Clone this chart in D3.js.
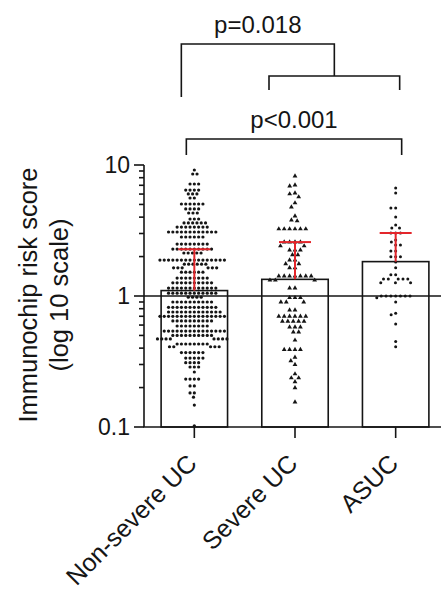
<!DOCTYPE html>
<html>
<head>
<meta charset="utf-8">
<script src="https://cdn.jsdelivr.net/npm/d3@7"></script>
<style>
  html, body { margin: 0; padding: 0; background: #fff; }
  svg { display: block; font-family: "Liberation Sans", Arial, Helvetica, sans-serif; }
</style>
</head>
<body>
<svg id="chart" width="441" height="594"></svg>
<script>
// ---------- data ----------
const categories = ["Non-severe UC", "Severe UC", "ASUC"];
const barMeans   = [1.10, 1.34, 1.83];   // geometric mean (bar height)
const errUpper   = [2.27, 2.58, 3.03];   // upper error bar
const yTicks     = [0.1, 1, 10];
const yTickLabels = ["0.1", "1", "10"];
const refLine    = 1;
const pLabels    = ["p=0.018", "p<0.001"];

const nonSevere = [
  9.16,
  8.54, 8.54,
  7.16, 7.16, 7.16,
  6.44, 6.44, 6.44, 6.44,
  6.01, 6.01, 6.01,
  5.60, 5.60,
  5.04, 5.04, 5.04, 5.04, 5.04, 5.04,
  4.62, 4.62, 4.62, 4.62,
  4.30, 4.30, 4.30,
  3.87, 3.87, 3.87,
  3.61, 3.61, 3.61, 3.61, 3.61, 3.61,
  3.36, 3.36, 3.36, 3.36, 3.36, 3.36, 3.36, 3.36,
  3.08, 3.08, 3.08, 3.08, 3.08, 3.08, 3.08, 3.08, 3.08, 3.08, 3.08, 3.08,
  2.82, 2.82, 2.82, 2.82, 2.82, 2.82,
  2.49, 2.49, 2.49, 2.49, 2.49, 2.49, 2.49, 2.49,
  2.28, 2.28, 2.28, 2.28, 2.28, 2.28, 2.28, 2.28, 2.28, 2.28,
  2.13, 2.13, 2.13, 2.13, 2.13,
  1.88, 1.88, 1.88, 1.88, 1.88, 1.88, 1.88, 1.88, 1.88, 1.88, 1.88, 1.88, 1.88, 1.88, 1.88, 1.88,
  1.75, 1.75, 1.75, 1.75, 1.75, 1.75,
  1.64, 1.64, 1.64, 1.64, 1.64, 1.64,
  1.52, 1.52, 1.52, 1.52, 1.52, 1.52,
  1.37, 1.37, 1.37, 1.37, 1.37, 1.37, 1.37, 1.37,
  1.26, 1.26, 1.26, 1.26, 1.26, 1.26, 1.26, 1.26, 1.26, 1.26,
  1.15, 1.15, 1.15, 1.15, 1.15, 1.15, 1.15, 1.15, 1.15, 1.15, 1.15, 1.15,
  1.05, 1.05, 1.05, 1.05, 1.05, 1.05, 1.05, 1.05, 1.05, 1.05, 1.05, 1.05,
  0.98, 0.98, 0.98, 0.98,
  0.90, 0.90, 0.90, 0.90, 0.90, 0.90, 0.90, 0.90, 0.90, 0.90,
  0.82, 0.82, 0.82, 0.82, 0.82, 0.82, 0.82, 0.82, 0.82, 0.82, 0.82, 0.82,
  0.755, 0.755, 0.755, 0.755, 0.755, 0.755, 0.755, 0.755, 0.755, 0.755, 0.755, 0.755, 0.755,
  0.70, 0.70, 0.70, 0.70, 0.70, 0.70, 0.70, 0.70, 0.70, 0.70, 0.70, 0.70, 0.70, 0.70, 0.70, 0.70,
  0.645, 0.645, 0.645, 0.645, 0.645, 0.645, 0.645, 0.645, 0.645, 0.645,
  0.59, 0.59, 0.59, 0.59, 0.59, 0.59, 0.59, 0.59,
  0.54, 0.54, 0.54, 0.54, 0.54, 0.54, 0.54, 0.54, 0.54, 0.54, 0.54, 0.54, 0.54, 0.54, 0.54,
  0.50, 0.50, 0.50, 0.50, 0.50, 0.50, 0.50, 0.50, 0.50, 0.50,
  0.47, 0.47, 0.47, 0.47, 0.47, 0.47, 0.47, 0.47,
  0.43, 0.43, 0.43, 0.43, 0.43, 0.43, 0.43, 0.43,
  0.41, 0.41, 0.41, 0.41, 0.41,
  0.37, 0.37, 0.37, 0.37, 0.37, 0.37,
  0.336, 0.336, 0.336, 0.336, 0.336,
  0.31, 0.31, 0.31, 0.31,
  0.287, 0.287, 0.287,
  0.263,
  0.232, 0.232, 0.232, 0.232,
  0.206, 0.206,
  0.182, 0.182,
  0.169,
  0.147,
  0.102
];

const severe = [
  8.24, 7.03, 6.91, 6.11, 6.01, 5.70, 5.13, 4.78, 4.08, 3.80, 3.74,
  3.25, 3.25, 3.25, 3.25, 3.25, 3.25,
  2.58, 2.58, 2.58, 2.58,
  2.41, 2.41,
  2.24, 2.24, 2.24,
  2.06, 2.06,
  1.88, 1.88,
  1.76, 1.76,
  1.64, 1.64,
  1.42, 1.42, 1.42, 1.42, 1.42, 1.42, 1.42,
  1.32, 1.32, 1.32,
  1.15, 1.15,
  0.97, 0.97, 0.97,
  0.90, 0.90, 0.90,
  0.78, 0.78,
  0.70, 0.70, 0.70, 0.70, 0.70, 0.70,
  0.64, 0.64, 0.64, 0.64, 0.64,
  0.58, 0.58, 0.58,
  0.53, 0.53,
  0.46,
  0.39, 0.39, 0.39, 0.39,
  0.34, 0.32, 0.30, 0.254, 0.237, 0.237, 0.221, 0.199, 0.155
];

const asuc = [
  6.67, 6.11, 4.70, 4.70, 4.01, 3.48, 3.31, 3.31,
  3.03, 3.03, 3.03, 2.68, 2.58, 2.45, 2.45, 2.21, 2.21,
  1.99, 1.99, 1.99, 1.82, 1.64, 1.45, 1.45,
  1.35, 1.35, 1.35, 1.35, 1.35,
  1.26, 1.26, 1.26,
  1.00, 1.00, 1.00, 1.00, 1.00, 1.00, 1.00,
  0.97, 0.90, 0.74, 0.72, 0.61, 0.45, 0.41
];

const groups = [nonSevere, severe, asuc];

// ---------- layout ----------
const svg = d3.select("#chart");
const W = 441, H = 594;
const axisX = 144, yTop = 165, yBottom = 427;

const y = d3.scaleLog().domain([0.1, 10]).range([yBottom, yTop]);
const x = d3.scaleBand().domain(categories).range([axisX, 446])
  .paddingInner(0.34).paddingOuter(0.17);

const ink = "#151515";
const red = "#e3262b";

// bars
svg.append("g").selectAll("rect").data(categories).join("rect")
  .attr("x", d => x(d))
  .attr("y", (d, i) => y(barMeans[i]))
  .attr("width", x.bandwidth())
  .attr("height", (d, i) => yBottom - y(barMeans[i]))
  .attr("fill", "none")
  .attr("stroke", ink)
  .attr("stroke-width", 1.6);

// reference line at 1
svg.append("line")
  .attr("x1", axisX).attr("x2", W)
  .attr("y1", y(refLine)).attr("y2", y(refLine))
  .attr("stroke", ink).attr("stroke-width", 1.6);

// swarm layout
function swarm(values, cx, d) {
  const pts = values.map(v => ({ v, y: y(v) })).sort((a, b) => a.y - b.y);
  const placed = [];
  for (const p of pts) {
    const iv = [];
    for (const q of placed) {
      const dy = Math.abs(q.y - p.y);
      if (dy < d) {
        const w = Math.sqrt(d * d - dy * dy);
        iv.push([q.dx - w, q.dx + w]);
      }
    }
    const cands = [0];
    iv.forEach(i => { cands.push(i[0], i[1]); });
    cands.sort((a, b) => Math.abs(a) - Math.abs(b) || a - b);
    let chosen = 0;
    for (const c of cands) {
      if (!iv.some(i => c > i[0] + 1e-6 && c < i[1] - 1e-6)) { chosen = c; break; }
    }
    p.dx = chosen;
    placed.push(p);
  }
  return pts.map(p => ({ v: p.v, x: cx + p.dx, y: p.y }));
}

const spacing = [4.3, 5.4, 4.8];
const pointsG = svg.append("g");
groups.forEach((vals, gi) => {
  const cx = x(categories[gi]) + x.bandwidth() / 2;
  const pts = swarm(vals, cx, spacing[gi]);
  if (gi === 1) {
    pointsG.append("g").selectAll("path").data(pts).join("path")
      .attr("d", d3.symbol().type(d3.symbolTriangle).size(10))
      .attr("transform", d => `translate(${d.x},${d.y})`)
      .attr("fill", ink);
  } else {
    pointsG.append("g").selectAll("circle").data(pts).join("circle")
      .attr("cx", d => d.x).attr("cy", d => d.y)
      .attr("r", gi === 0 ? 1.6 : 1.5)
      .attr("fill", ink);
  }
});

// error bars (upper only, red)
const eb = svg.append("g").attr("stroke", red).attr("stroke-width", 2);
categories.forEach((c, i) => {
  const cx = x(c) + x.bandwidth() / 2;
  eb.append("line").attr("x1", cx).attr("x2", cx)
    .attr("y1", y(barMeans[i])).attr("y2", y(errUpper[i]));
  eb.append("line").attr("x1", cx - 16).attr("x2", cx + 16)
    .attr("y1", y(errUpper[i])).attr("y2", y(errUpper[i]));
});

// y axis
const yAxisG = svg.append("g").attr("stroke", ink).attr("stroke-width", 1.6);
yAxisG.append("line").attr("x1", axisX).attr("x2", axisX).attr("y1", yTop).attr("y2", yBottom);
const minorTicks = [];
[0.1, 1].forEach(base => { for (let k = 2; k <= 9; k++) minorTicks.push(base * k); });
yAxisG.selectAll("line.minor").data(minorTicks).join("line").attr("class", "minor")
  .attr("x1", axisX - 5).attr("x2", axisX).attr("y1", d => y(d)).attr("y2", d => y(d));
yAxisG.selectAll("line.major").data(yTicks).join("line").attr("class", "major")
  .attr("x1", axisX - 10).attr("x2", axisX).attr("y1", d => y(d)).attr("y2", d => y(d));

svg.append("g").selectAll("text").data(yTicks).join("text")
  .attr("x", axisX - 14).attr("y", d => y(d))
  .attr("text-anchor", "end").attr("dominant-baseline", "central")
  .attr("font-size", 23).attr("fill", ink)
  .text((d, i) => yTickLabels[i]);

// y title
const yt = svg.append("text")
  .attr("transform", "translate(0,295) rotate(-90)")
  .attr("text-anchor", "middle").attr("font-size", 25.5).attr("fill", ink);
yt.append("tspan").attr("x", 0).attr("y", 37).text("Immunochip risk score");
yt.append("tspan").attr("x", 0).attr("y", 68).text("(log 10 scale)");

// x axis
const xAxisG = svg.append("g").attr("stroke", ink).attr("stroke-width", 1.6);
xAxisG.append("line").attr("x1", axisX - 0.8).attr("x2", W).attr("y1", yBottom).attr("y2", yBottom);
xAxisG.selectAll("line.tick").data(categories).join("line").attr("class", "tick")
  .attr("x1", d => x(d) + x.bandwidth() / 2).attr("x2", d => x(d) + x.bandwidth() / 2)
  .attr("y1", yBottom).attr("y2", yBottom + 11);

svg.append("g").selectAll("text").data(categories).join("text")
  .attr("transform", d => `translate(${x(d) + x.bandwidth() / 2 + 4},${yBottom + 38}) rotate(-45)`)
  .attr("text-anchor", "end").attr("font-size", 25).attr("fill", ink)
  .text(d => d);

// significance brackets
const cxOf = i => x(categories[i]) + x.bandwidth() / 2;
const br = svg.append("g").attr("stroke", ink).attr("stroke-width", 1.6).attr("fill", "none");
// inner bracket Severe UC – ASUC
const innerL = cxOf(1) - 26, innerR = cxOf(2) + 4, innerY = 76;
br.append("path").attr("d", `M${innerL},90V${innerY}H${innerR}V90`);
// outer bracket Non-severe UC – (Severe UC + ASUC)
const outerL = cxOf(0) - 13, outerR = (innerL + innerR) / 2, outerY = 44;
br.append("path").attr("d", `M${outerL},97V${outerY}H${outerR}V${innerY}`);
// lower bracket Non-severe UC – ASUC
const lowL = cxOf(0) - 8, lowR = cxOf(2) + 6, lowY = 139;
br.append("path").attr("d", `M${lowL},155V${lowY}H${lowR}V155`);

svg.append("text").attr("x", (outerL + outerR) / 2).attr("y", 33)
  .attr("text-anchor", "middle").attr("font-size", 24).attr("fill", ink).text(pLabels[0]);
svg.append("text").attr("x", (lowL + lowR) / 2).attr("y", 128)
  .attr("text-anchor", "middle").attr("font-size", 24).attr("fill", ink).text(pLabels[1]);
</script>
</body>
</html>
